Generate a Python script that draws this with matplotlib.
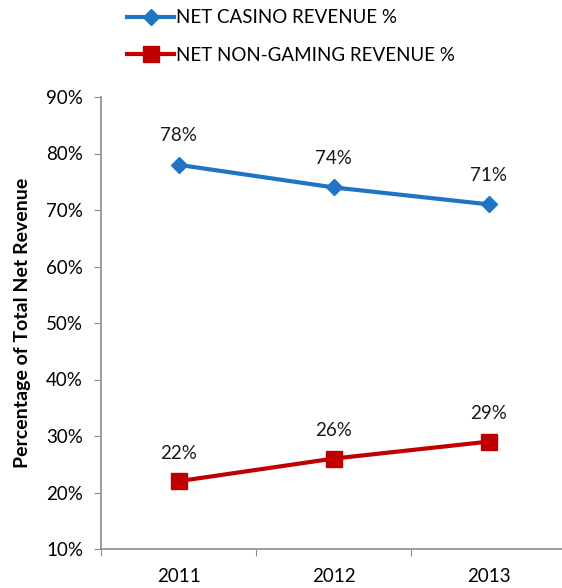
import matplotlib.pyplot as plt
from matplotlib.ticker import FixedLocator, FuncFormatter

plt.rcParams['font.family'] = ['Lato', 'DejaVu Sans']

years = ['2011', '2012', '2013']
casino_pct = [78, 74, 71]
non_gaming_pct = [22, 26, 29]
yticks = [10, 20, 30, 40, 50, 60, 70, 80, 90]

blue = '#1F74C4'
red = '#C00000'
grey = '#8C8C8C'

fig = plt.figure(figsize=(5.62, 5.88), dpi=100)
ax = fig.add_axes([101 / 562, 1 - 549 / 588, 461 / 562, 452 / 588])

x = list(range(len(years)))
ax.plot(x, casino_pct, color=blue, lw=3, marker='D', ms=8, label='NET CASINO REVENUE %')
ax.plot(x, non_gaming_pct, color=red, lw=3, marker='s', ms=11, label='NET NON-GAMING REVENUE %')

for xi, v in zip(x, casino_pct):
    ax.annotate(f'{v}%', (xi, v), xytext=(0, 21), textcoords='offset points',
                ha='center', va='center', fontsize=13.5, color='#1a1a1a')
for xi, v in zip(x, non_gaming_pct):
    ax.annotate(f'{v}%', (xi, v), xytext=(0, 20), textcoords='offset points',
                ha='center', va='center', fontsize=13.5, color='#1a1a1a')

ax.set_ylim(10, 90)
ax.set_xlim(-0.5, 2.474)
ax.yaxis.set_major_locator(FixedLocator(yticks))
ax.yaxis.set_major_formatter(FuncFormatter(lambda v, p: f'{v:.0f}%'))
ax.xaxis.set_major_locator(FixedLocator([-0.5, 0.5, 1.5, 2.5]))
ax.xaxis.set_major_formatter(FuncFormatter(lambda v, p: ''))
ax.xaxis.set_minor_locator(FixedLocator(x))
ax.set_xticklabels(years, minor=True)
ax.tick_params(axis='x', which='minor', length=0, pad=14, labelsize=13.5)
ax.tick_params(axis='x', which='major', length=5, color=grey, direction='out')
ax.tick_params(axis='y', length=5, color=grey, labelsize=13.5, pad=8)

for s in ['top', 'right']:
    ax.spines[s].set_visible(False)
for s in ['left', 'bottom']:
    ax.spines[s].set_color(grey)
    ax.spines[s].set_linewidth(1.2)

ax.set_ylabel('Percentage of Total Net Revenue', fontsize=14, fontweight='bold', labelpad=11)

fig.legend(loc='upper left', bbox_to_anchor=(118 / 562, 1.0), frameon=False, fontsize=13.5,
           handlelength=2.5, handletextpad=0.1, labelspacing=1.1, borderaxespad=0.1)

fig.savefig('out.png', dpi=100)
